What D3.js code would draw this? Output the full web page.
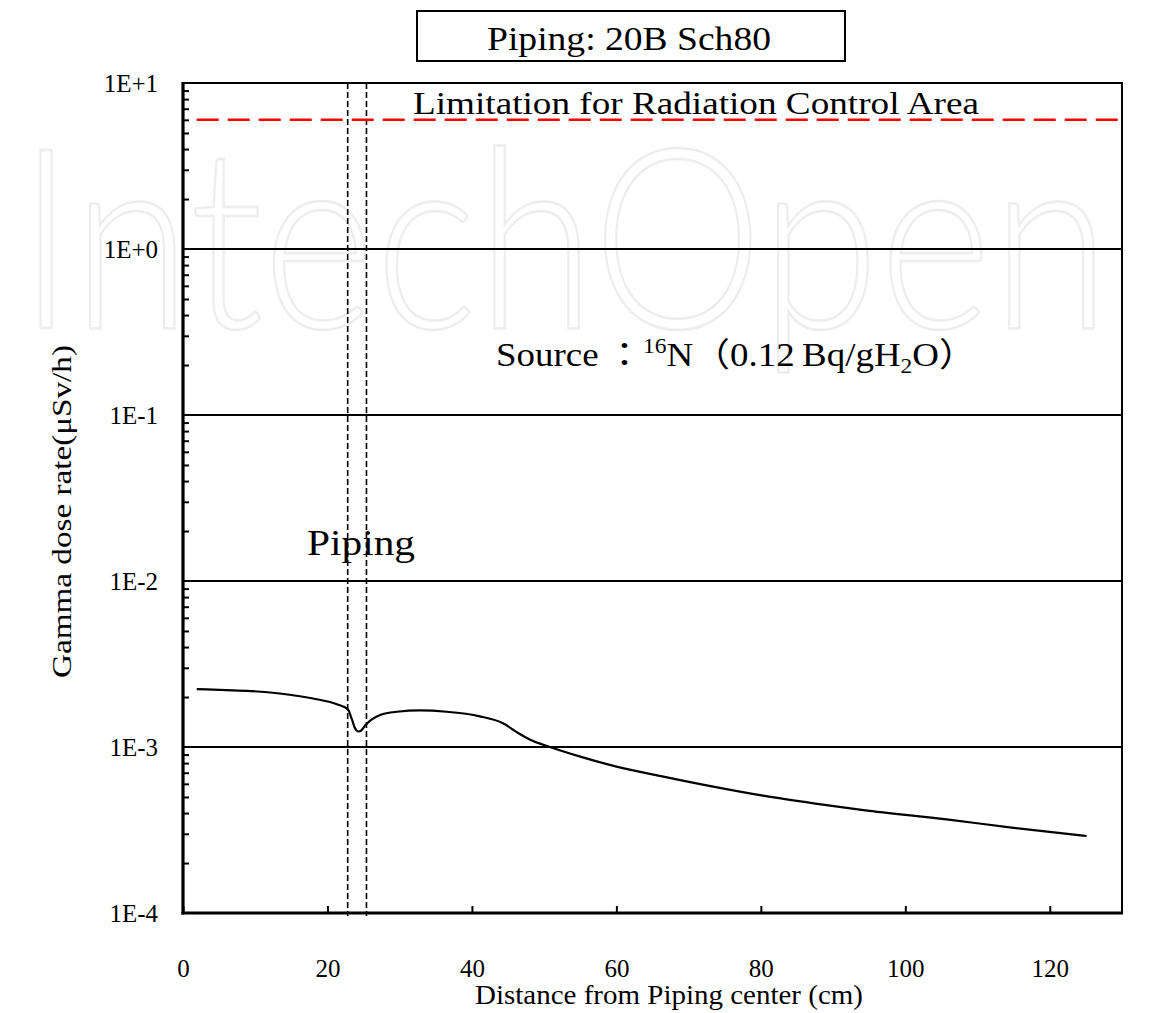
<!DOCTYPE html>
<html>
<head>
<meta charset="utf-8">
<script src="https://cdn.jsdelivr.net/npm/d3@7"></script>
<style>
  html, body { margin: 0; padding: 0; background: #fff; }
  svg { display: block; }
</style>
</head>
<body>
<svg id="chart" width="1150" height="1013"></svg>
<script>
// ---- data ----
const distance = [1.9, 5, 8.8, 13.4, 18, 21.3, 22.8, 23.4, 23.8, 24.3, 24.7, 25.3, 26.1, 27.3, 29.6, 32.8, 36.5, 41.1, 44.3, 46.2, 48, 50.8, 55, 60, 66.5, 73.4, 80.3, 87.3, 94.2, 105.7, 115, 125.1];
const doseRate = [2.23e-3, 2.21e-3, 2.18e-3, 2.10e-3, 1.96e-3, 1.81e-3, 1.69e-3, 1.46e-3, 1.30e-3, 1.24e-3, 1.26e-3, 1.36e-3, 1.46e-3, 1.56e-3, 1.63e-3, 1.66e-3, 1.63e-3, 1.53e-3, 1.39e-3, 1.23e-3, 1.11e-3, 1.0e-3, 8.75e-4, 7.62e-4, 6.63e-4, 5.77e-4, 5.09e-4, 4.58e-4, 4.17e-4, 3.66e-4, 3.26e-4, 2.91e-4];
const limitX = [1.9, 130];
const limitValue = 6;
const pipeWalls = [22.8, 25.4];
const xTicks = [0, 20, 40, 60, 80, 100, 120];
const yTicks = [1e1, 1e0, 1e-1, 1e-2, 1e-3, 1e-4];
const yTickLabels = ["1E+1", "1E+0", "1E-1", "1E-2", "1E-3", "1E-4"];
const gridValues = [1e0, 1e-1, 1e-2, 1e-3];

// ---- layout ----
const L = 183, R = 1122, T = 83, B = 913;
const serif = "'Liberation Serif', 'Noto Sans CJK JP', serif";
const svg = d3.select("#chart");

const x = d3.scaleLinear().domain([0, 130]).range([L, R]);
const y = d3.scaleLog().domain([1e-4, 10]).range([B, T]);

// watermark
svg.append("text")
  .attr("x", 18).attr("y", 328)
  .attr("textLength", 1092).attr("lengthAdjust", "spacingAndGlyphs")
  .attr("font-family", "Lato, 'Open Sans', sans-serif")
  .attr("font-weight", 300)
  .attr("font-size", 250)
  .attr("fill", "none")
  .attr("stroke", "#ededed")
  .attr("stroke-width", 2.5)
  .text("IntechOpen");

// gridlines
svg.append("g").selectAll("line").data(gridValues).join("line")
  .attr("x1", L).attr("x2", R)
  .attr("y1", d => y(d)).attr("y2", d => y(d))
  .attr("stroke", "#000").attr("stroke-width", 2);

// minor ticks on left axis
const minors = [];
for (let e = -4; e < 1; e++) for (let m = 2; m <= 9; m++) minors.push(m * Math.pow(10, e));
const minorAxis = svg.append("g").attr("transform", `translate(${L},0)`)
  .call(d3.axisLeft(y).tickValues(minors).tickSize(-6).tickFormat(""));
minorAxis.select(".domain").remove();
minorAxis.selectAll("line").attr("stroke", "#000").attr("stroke-width", 2);

// major y labels
const yAxis = svg.append("g").attr("transform", `translate(${L},0)`)
  .call(d3.axisLeft(y).tickValues(yTicks).tickSize(0).tickPadding(25)
    .tickFormat((d, i) => yTickLabels[i]));
yAxis.select(".domain").remove();
yAxis.selectAll("text")
  .attr("font-family", serif).attr("font-size", 25).attr("fill", "#000")
  .attr("dy", "0.34em");

// x axis
const xAxis = svg.append("g").attr("transform", `translate(0,${B})`)
  .call(d3.axisBottom(x).tickValues(xTicks).tickSize(-7).tickPadding(46));
xAxis.select(".domain").remove();
xAxis.selectAll("line").attr("stroke", "#000").attr("stroke-width", 2);
xAxis.selectAll("text")
  .attr("font-family", serif).attr("font-size", 25).attr("fill", "#000");

// pipe wall dashed lines
svg.append("g").selectAll("line").data(pipeWalls).join("line")
  .attr("x1", d => x(d)).attr("x2", d => x(d))
  .attr("y1", T).attr("y2", B + 3)
  .attr("stroke", "#000").attr("stroke-width", 1.6)
  .attr("stroke-dasharray", "6,3");

// limitation line
svg.append("line")
  .attr("x1", x(limitX[0])).attr("x2", x(limitX[1]))
  .attr("y1", y(limitValue)).attr("y2", y(limitValue))
  .attr("stroke", "#ff0000").attr("stroke-width", 2.5)
  .attr("stroke-dasharray", "22,9");

// curve
const line = d3.line().x((d, i) => x(distance[i])).y(d => y(d)).curve(d3.curveMonotoneX);
svg.append("path").datum(doseRate)
  .attr("d", line)
  .attr("fill", "none").attr("stroke", "#000").attr("stroke-width", 2.2);

// frame
svg.append("rect").attr("x", L).attr("y", T).attr("width", R - L).attr("height", B - T)
  .attr("fill", "none").attr("stroke", "#000").attr("stroke-width", 2);
svg.append("line").attr("x1", L).attr("x2", L).attr("y1", T - 1).attr("y2", B + 1.5)
  .attr("stroke", "#000").attr("stroke-width", 3.2);
svg.append("line").attr("x1", L - 1.5).attr("x2", R + 1).attr("y1", B).attr("y2", B)
  .attr("stroke", "#000").attr("stroke-width", 3.2);

// title box
svg.append("rect").attr("x", 417).attr("y", 11).attr("width", 428).attr("height", 50)
  .attr("fill", "#fff").attr("stroke", "#000").attr("stroke-width", 2);
svg.append("text").attr("x", 487).attr("y", 50)
  .attr("textLength", 284).attr("lengthAdjust", "spacingAndGlyphs")
  .attr("font-family", serif).attr("font-size", 34).attr("fill", "#000")
  .text("Piping: 20B Sch80");

// limitation label
svg.append("text").attr("x", 413).attr("y", 114)
  .attr("textLength", 566).attr("lengthAdjust", "spacingAndGlyphs")
  .attr("font-family", serif).attr("font-size", 31).attr("fill", "#000")
  .text("Limitation for Radiation Control Area");

// piping label
svg.append("text").attr("x", 307).attr("y", 555)
  .attr("textLength", 108).attr("lengthAdjust", "spacingAndGlyphs")
  .attr("font-family", serif).attr("font-size", 36).attr("fill", "#000")
  .text("Piping");

// source annotation: one text element, natural flow
const src = svg.append("text").attr("x", 496).attr("y", 366)
  .attr("textLength", 480).attr("lengthAdjust", "spacingAndGlyphs")
  .attr("font-family", serif).attr("font-size", 33).attr("fill", "#000");
src.append("tspan").text("Source\u2009：");
src.append("tspan").attr("font-size", 21).attr("dy", -13).text("16");
src.append("tspan").attr("dy", 13).text("N（0.12\u2009Bq/gH");
src.append("tspan").attr("font-size", 21).attr("dy", 7).text("2");
src.append("tspan").attr("dy", -7).text("O）");

// axis titles
svg.append("text").attr("x", 475).attr("y", 1004)
  .attr("textLength", 388).attr("lengthAdjust", "spacingAndGlyphs")
  .attr("font-family", serif).attr("font-size", 27).attr("fill", "#000")
  .text("Distance from Piping center (cm)");
svg.append("text")
  .attr("transform", "translate(71,678) rotate(-90)")
  .attr("x", 0).attr("y", 0)
  .attr("textLength", 333).attr("lengthAdjust", "spacingAndGlyphs")
  .attr("font-family", serif).attr("font-size", 27).attr("fill", "#000")
  .text("Gamma dose rate(μSv/h)");
</script>
</body>
</html>
